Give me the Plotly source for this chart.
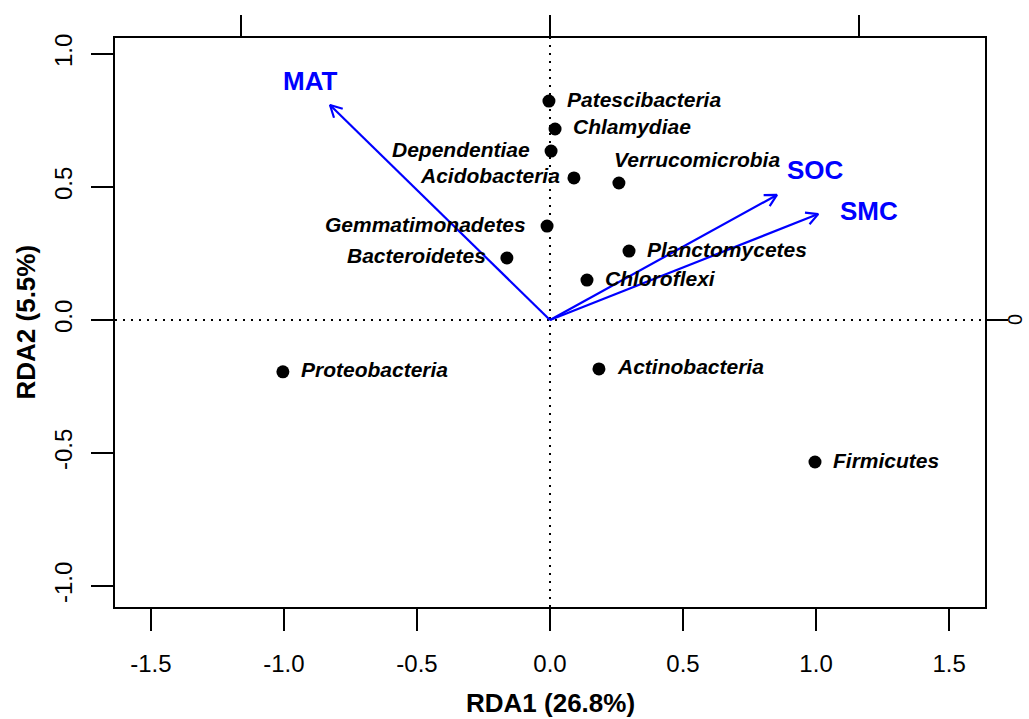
import numpy as np
import plotly.graph_objects as go

# Taxa scores on the first two RDA axes
taxa = ["Patescibacteria", "Chlamydiae", "Dependentiae", "Acidobacteria",
        "Verrucomicrobia", "Gemmatimonadetes", "Bacteroidetes", "Planctomycetes",
        "Chloroflexi", "Proteobacteria", "Actinobacteria", "Firmicutes"]
rda1 = [-0.004, 0.019, 0.004, 0.090, 0.259, -0.011, -0.162, 0.297,
        0.139, -1.004, 0.184, 0.996]
rda2 = [0.823, 0.718, 0.635, 0.534, 0.515, 0.353, 0.233, 0.259,
        0.150, -0.195, -0.184, -0.534]
label_side = ["right", "right", "left", "left", "top", "left", "left", "right",
              "right", "right", "right", "right"]

# Environmental variables (biplot arrows)
env_vars = ["MAT", "SOC", "SMC"]
env_rda1 = [-0.827, 0.853, 1.008]
env_rda2 = [0.808, 0.470, 0.398]

# Axis ticks
x_ticks = [-1.5, -1.0, -0.5, 0.0, 0.5, 1.0, 1.5]
y_ticks = [-1.0, -0.5, 0.0, 0.5, 1.0]
sec_ticks = [-1, 0, 1]

x_title = "RDA1 (26.8%)"
y_title = "RDA2 (5.5%)"

X_RANGE = [-1.635, 1.635]
Y_RANGE = [-1.079, 1.060]
SEC_SCALE = 0.861          # ratio of the secondary (top/right) axis scale

FONT = "Liberation Sans"
BLUE = "#0000FF"

fig = go.Figure()

# Reference lines through the origin
for shp in [dict(x0=0, x1=0, y0=Y_RANGE[0], y1=Y_RANGE[1]),
            dict(x0=X_RANGE[0], x1=X_RANGE[1], y0=0, y1=0)]:
    fig.add_shape(type="line", xref="x", yref="y", layer="below",
                  line=dict(color="black", width=2, dash="2px,6px"), **shp)

# Arrows with open heads
head_len = 0.05
head_ang = np.deg2rad(28)
for name, ex, ey in zip(env_vars, env_rda1, env_rda2):
    theta = np.arctan2(ey, ex)
    w1 = (ex - head_len * np.cos(theta - head_ang), ey - head_len * np.sin(theta - head_ang))
    w2 = (ex - head_len * np.cos(theta + head_ang), ey - head_len * np.sin(theta + head_ang))
    fig.add_trace(go.Scatter(
        x=[0, ex, None, w1[0], ex, w2[0]],
        y=[0, ey, None, w1[1], ey, w2[1]],
        mode="lines", line=dict(color=BLUE, width=2.2),
        hoverinfo="skip", showlegend=False))

# Taxa points
fig.add_trace(go.Scatter(
    x=rda1, y=rda2, mode="markers", text=taxa,
    marker=dict(color="black", size=13, line=dict(width=0)),
    showlegend=False))

# Taxa labels
nudges = {"right": dict(xanchor="left", xshift=16, yshift=2),
          "left": dict(xanchor="right", xshift=-19, yshift=2),
          "top": dict(xanchor="left", xshift=-7, yshift=23)}
special = {"Acidobacteria": dict(xanchor="right", xshift=-12, yshift=2)}
for name, x, y, side in zip(taxa, rda1, rda2, label_side):
    nd = special.get(name, nudges[side])
    fig.add_annotation(x=x, y=y, text=f"<b><i>{name}</i></b>", showarrow=False,
                       yanchor="middle", font=dict(family=FONT, size=21, color="black"),
                       **nd)

# Arrow labels, placed just beyond the arrow tips
env_nudge = {"MAT": (3, 3), "SOC": (16, 12), "SMC": (24, -7)}
for name, ex, ey in zip(env_vars, env_rda1, env_rda2):
    dx, dy = env_nudge[name]
    fig.add_annotation(x=ex * 1.1, y=ey * 1.1, text=f"<b>{name}</b>", showarrow=False,
                       xanchor="center", yanchor="middle", xshift=dx, yshift=dy,
                       font=dict(family=FONT, size=26, color=BLUE))

# Invisible trace to carry the secondary axes
fig.add_trace(go.Scatter(x=[0], y=[0], xaxis="x2", yaxis="y2", mode="markers",
                         marker=dict(opacity=0), hoverinfo="skip", showlegend=False))

axis_common = dict(ticks="outside", ticklen=22, tickwidth=2, tickcolor="black",
                   showgrid=False, zeroline=False, automargin=False,
                   tickfont=dict(family=FONT, size=24, color="black"))

fig.update_layout(
    width=1029, height=719,
    margin=dict(l=115, r=44, t=38, b=112, autoexpand=False),
    paper_bgcolor="white", plot_bgcolor="white",
    showlegend=False,
    xaxis=dict(range=X_RANGE, tickvals=x_ticks, ticktext=[f"{v:.1f}" for v in x_ticks],
               showline=True, linewidth=2, linecolor="black", mirror=True,
               ticklabelstandoff=12, **axis_common),
    yaxis=dict(range=Y_RANGE, tickvals=y_ticks, ticktext=[f"{v:.1f}" for v in y_ticks],
               tickangle=-90, showline=True, linewidth=2, linecolor="black", mirror=True,
               ticklabelstandoff=9, **axis_common),
    xaxis2=dict(range=[v * SEC_SCALE for v in X_RANGE], tickvals=sec_ticks,
                overlaying="x", side="top", anchor="y", showticklabels=False,
                showline=False, **axis_common),
    yaxis2=dict(range=[v * SEC_SCALE for v in Y_RANGE], tickvals=sec_ticks,
                overlaying="y", side="right", anchor="x", showline=False,
                showticklabels=False, **axis_common),
)

# Right-hand axis tick label (rotated)
fig.add_annotation(xref="paper", yref="y2", x=1, y=0, xshift=30, text="0",
                   showarrow=False, xanchor="center", yanchor="middle", textangle=-90,
                   font=dict(family=FONT, size=20, color="black"))

# Axis titles
fig.add_annotation(xref="paper", yref="paper", x=0.5, y=0, yshift=-96,
                   text=f"<b>{x_title}</b>", showarrow=False, yanchor="middle",
                   font=dict(family=FONT, size=26, color="black"))
fig.add_annotation(xref="paper", yref="paper", x=0, y=0.5, xshift=-90,
                   text=f"<b>{y_title}</b>", showarrow=False, xanchor="center",
                   textangle=-90, font=dict(family=FONT, size=26, color="black"))

fig.write_html("out.html")
